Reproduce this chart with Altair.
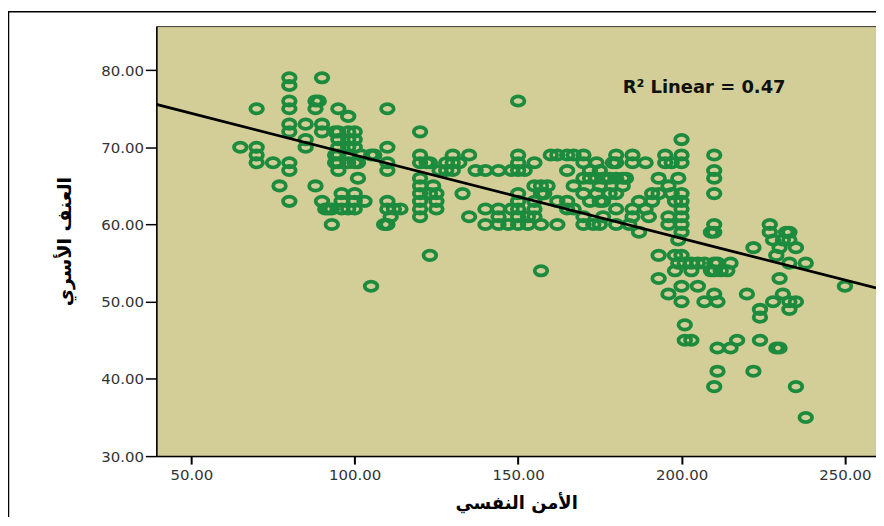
import altair as alt
import pandas as pd

# ---- data (psychological security vs family violence) ----
x_a = [65, 70, 70, 70, 70, 75, 77, 80, 80, 80, 80, 80, 80, 80, 80, 80]
y_a = [70, 75, 70, 69, 68, 68, 65, 79, 78, 76, 75, 73, 72, 68, 67, 63]

x_b = [85, 85, 85, 88, 88, 88, 90, 89, 90, 90, 90, 91, 92, 93, 93, 94, 94, 94,
       95, 95, 95, 95, 95, 95, 95, 96, 96, 96, 98, 98, 98, 98, 98, 98, 98,
       100, 100, 100, 100, 100, 100, 100, 101, 101, 102, 103, 105, 105, 106]
y_b = [73, 71, 70, 76, 75, 65, 79, 76, 72, 73, 63, 62, 62, 62, 60, 72, 69, 68,
       75, 72, 71, 70, 69, 68, 67, 64, 62, 63, 74, 72, 71, 70, 69, 68, 62,
       72, 71, 70, 68, 64, 62, 63, 68, 66, 69, 63, 69, 52, 69]

x_c = [110, 110, 110, 110, 110, 110, 110, 109, 111, 112, 114, 120, 120, 120,
       120, 120, 120, 120, 120, 120, 122, 123, 123, 123, 124, 125, 125, 125]
y_c = [75, 70, 68, 67, 63, 62, 60, 60, 61, 62, 62, 72, 69, 68,
       66, 65, 64, 63, 62, 61, 68, 68, 64, 56, 65, 64, 63, 62]

x_d = [126, 128, 128, 130, 130, 130, 133, 132, 135, 135, 137, 140, 140, 140,
       144, 144, 144, 144, 147, 148, 148, 150, 150, 150, 150, 150, 150, 150,
       150, 150, 152, 153, 153, 155, 155, 155, 155, 155, 157, 157, 157, 157,
       158, 159, 160]
y_d = [67, 68, 67, 69, 68, 67, 64, 68, 69, 61, 67, 67, 62, 60,
       67, 62, 61, 60, 60, 67, 62, 76, 69, 68, 67, 64, 63, 62,
       61, 60, 67, 60, 61, 68, 65, 63, 62, 61, 65, 64, 60, 54,
       64, 65, 69]

x_e = [162, 162, 162, 165, 165, 165, 165, 167, 167, 167, 170, 170, 170, 170,
       170, 170, 172, 172, 172, 173, 174, 174, 174, 175, 175, 175, 175, 176,
       176, 176, 177, 178, 178, 179, 180, 180, 180, 180, 180, 180, 182, 182,
       183, 184, 185, 185, 185, 185, 187, 187, 189, 189]
y_e = [69, 63, 60, 69, 67, 63, 62, 69, 65, 62, 69, 68, 66, 64,
       61, 60, 67, 66, 63, 60, 68, 66, 64, 67, 65, 63, 60, 66,
       63, 61, 66, 66, 64, 68, 69, 68, 66, 64, 62, 60, 66, 65,
       66, 60, 69, 68, 62, 61, 63, 59, 68, 62]

x_f = [190, 191, 191, 193, 193, 193, 193, 195, 195, 196, 196, 196, 196, 197,
       197, 198, 198, 198, 199, 199, 199, 200, 200, 200, 200, 200, 200, 200,
       200, 200, 200, 200, 200, 201, 201, 201, 203, 203, 203]
y_f = [61, 64, 63, 66, 64, 56, 53, 69, 68, 65, 61, 60, 51, 68,
       64, 63, 56, 54, 66, 58, 55, 71, 69, 68, 64, 63, 62, 61,
       60, 59, 56, 52, 50, 55, 47, 45, 45, 55, 54]

x_g = [205, 205, 207, 207, 209, 209, 210, 210, 210, 210, 210, 210, 210, 210,
       210, 210, 211, 211, 211, 211, 212, 214, 215, 215, 217, 220, 222, 222,
       224, 224, 224, 227, 227, 228, 229, 228, 229, 230, 230, 230, 231, 231,
       232, 233, 233, 233, 233, 233, 235, 235, 235, 238, 238, 250]
y_g = [52, 55, 55, 50, 59, 54, 69, 67, 66, 64, 60, 59, 55, 54,
       51, 39, 55, 50, 44, 41, 54, 54, 55, 44, 45, 51, 57, 41,
       49, 48, 45, 60, 59, 58, 56, 50, 44, 44, 57, 53, 58, 51,
       59, 59, 58, 55, 49, 50, 50, 57, 39, 55, 35, 52]

X = x_a + x_b + x_c + x_d + x_e + x_f + x_g
Y = y_a + y_b + y_c + y_d + y_e + y_f + y_g

X_DOMAIN = [39.3, 259.5]
Y_DOMAIN = [30, 85.7]
X_TICKS = [50, 100, 150, 200, 250]
Y_TICKS = [30, 40, 50, 60, 70, 80]

FIT_INTERCEPT = 79.8
FIT_SLOPE = -0.108
R2_LABEL = ["R² Linear = 0.47"]
R2_X = [182]
R2_Y = [77.7]

X_TITLE = "الأمن النفسي"
Y_TITLE = "العنف الأسري"

# ---- tables ----
pts = pd.DataFrame({"x": X, "y": Y})
fit = pd.DataFrame({"x": X_DOMAIN,
                    "y": [FIT_INTERCEPT + FIT_SLOPE * v for v in X_DOMAIN]})
ann = pd.DataFrame({"x": R2_X, "y": R2_Y, "t": R2_LABEL})
frame = pd.DataFrame({"k": [0]})

W, H = 723, 432

xs = alt.Scale(domain=X_DOMAIN, nice=False, zero=False)
ys = alt.Scale(domain=Y_DOMAIN, nice=False, zero=False)

x_axis = alt.Axis(values=X_TICKS, format=".2f", title=X_TITLE, grid=False,
                  domainColor="black", domainWidth=1.5, tickColor="black",
                  tickSize=8, tickWidth=2, labelFont="DejaVu Sans",
                  labelFontSize=15, labelColor="#333333", labelPadding=4,
                  labelFlush=False, titleFont="DejaVu Sans", titleFontSize=18,
                  titleFontWeight="bold", titleColor="black",
                  titleY=48, titleBaseline="middle")
y_axis = alt.Axis(values=Y_TICKS, format=".2f", title=Y_TITLE, grid=False,
                  domainColor="black", domainWidth=1.5, tickColor="black",
                  tickSize=11, tickWidth=1.5, labelFont="DejaVu Sans",
                  labelFontSize=15, labelColor="#333333", labelPadding=2,
                  labelFlush=False, titleFont="DejaVu Sans", titleFontSize=19,
                  titleFontWeight="bold", titleColor="black",
                  titleX=-92, titleY=H / 2, titleAngle=270,
                  titleAlign="center", titleBaseline="middle")

x_enc = alt.X("x:Q", scale=xs, axis=x_axis)
y_enc = alt.Y("y:Q", scale=ys, axis=y_axis)

ELLIPSE = "M-1,0A1,0.74,0,1,0,1,0A1,0.74,0,1,0,-1,0Z"

points = alt.Chart(pts).mark_point(
    shape=ELLIPSE, size=160, filled=False, stroke="#1d8b3e",
    strokeWidth=3.8, opacity=1
).encode(x=x_enc, y=y_enc)

line = alt.Chart(fit).mark_line(color="black", strokeWidth=2.8).encode(
    x=x_enc, y=y_enc)

text = alt.Chart(ann).mark_text(
    align="left", baseline="middle", font="DejaVu Sans", fontSize=18,
    fontWeight="bold", color="#111111"
).encode(x=x_enc, y=y_enc, text="t:N")

border = alt.Chart(frame).mark_rect(
    filled=False, stroke="black", strokeWidth=1.5, clip=False
).encode(x=alt.value(-148.5), x2=alt.value(W + 200),
         y=alt.value(-14.5), y2=alt.value(H + 200))

chart = alt.layer(points, line, text, border).properties(
    width=W, height=H,
    autosize="none",
    padding={"left": 149, "top": 17, "right": 0, "bottom": 60},
).configure(background="white").configure_view(
    fill="#d3ce97", stroke="#3a3a3a", strokeWidth=1
)

chart.save("out.html", embed_options={"renderer": "svg", "actions": False})
